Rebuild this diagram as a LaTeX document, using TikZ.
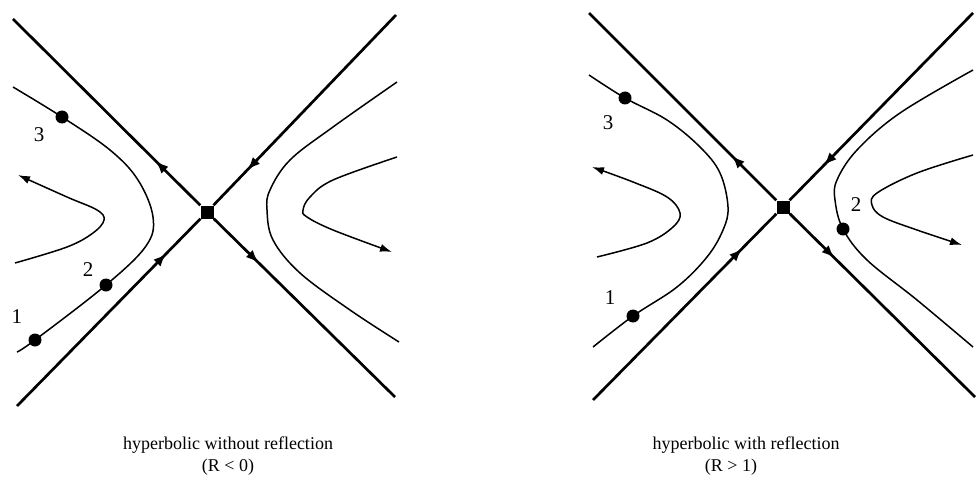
\documentclass[tikz,border=0pt]{standalone}
\usepackage{fontspec}
\setmainfont{Liberation Serif}
\usetikzlibrary{arrows.meta,decorations.markings}
\begin{document}
\begin{tikzpicture}[x=1pt,y=-1pt,
  axis/.style={line width=2.7pt},
  traj/.style={line width=1.5pt},
  outarrow/.style={postaction={decorate},decoration={markings,mark=at position 63pt with {\arrow{Latex[length=13pt,width=10pt]}}}},
  inarrow/.style={postaction={decorate},decoration={markings,mark=at position 49pt with {\arrowreversed{Latex[length=13pt,width=10pt]}}}},
  fixedpt/.style={fill,rectangle,minimum size=13pt,inner sep=0pt},
  dotpt/.style={fill,circle,minimum size=13pt,inner sep=0pt},
  lab/.style={font=\fontsize{21}{24}\selectfont,inner sep=0pt},
  captext/.style={font=\fontsize{18}{21}\selectfont,inner sep=0pt,anchor=base},
  endtip/.style={-{Latex[length=12pt,width=8pt]}}
]
\useasboundingbox (0,0) rectangle (976,476);

% ---------- left diagram ----------
\node[fixedpt] (c1) at (207,212) {};
\coordinate (a1) at (13,19);
\coordinate (a2) at (396,15);
\coordinate (a3) at (17,406);
\coordinate (a4) at (395,397);
\draw[axis,outarrow] (c1) -- (a1);
\draw[axis,inarrow] (c1) -- (a2);
\draw[axis,inarrow] (c1) -- (a3);
\draw[axis,outarrow] (c1) -- (a4);

\node[dotpt] (l1) at (35,340) {};
\node[dotpt] (l2) at (106,285) {};
\node[dotpt] (l3) at (62,117) {};
\draw[traj] plot[smooth,tension=0.6] coordinates {(13,87) (l3.center) (110,150) (138,180) (153,217) (146,246) (l2.center) (l1.center) (17,352)};
\draw[traj,endtip] plot[smooth,tension=0.6] coordinates {(15,263) (67,247) (93,233) (104,220) (97,210) (67,197) (18,175)};
\draw[traj] plot[smooth,tension=0.6] coordinates {(397,82) (333,127) (290,160) (270,190) (267,210) (273,240) (300,273) (350,310) (399,342)};
\draw[traj,endtip] plot[smooth,tension=0.6] coordinates {(397,157) (333,180) (310,197) (303,210) (307,217) (333,230) (392,252)};

\node[lab] (t1) at (17,317) {1};
\node[lab] (t2) at (88,270) {2};
\node[lab] (t3) at (39,135) {3};

\node[captext] (cap1a) at (228,449) {hyperbolic without reflection};
\node[captext] (cap1b) at (228,471) {(R < 0)};

% ---------- right diagram ----------
\node[fixedpt] (c2) at (783,207) {};
\coordinate (b1) at (589,13);
\coordinate (b2) at (973,13);
\coordinate (b3) at (593,400);
\coordinate (b4) at (975,397);
\draw[axis,outarrow] (c2) -- (b1);
\draw[axis,inarrow] (c2) -- (b2);
\draw[axis,inarrow] (c2) -- (b3);
\draw[axis,outarrow] (c2) -- (b4);

\node[dotpt] (r1) at (633,316) {};
\node[dotpt] (r2) at (843,229) {};
\node[dotpt] (r3) at (625,98) {};
\draw[traj] plot[smooth,tension=0.6] coordinates {(589,75) (r3.center) (667,120) (700,147) (720,173) (728,207) (723,230) (707,257) (677,287) (r1.center) (593,347)};
\draw[traj,endtip] plot[smooth,tension=0.6] coordinates {(597,257) (647,243) (673,227) (680,213) (667,197) (633,182) (592,167)};
\draw[traj] plot[smooth,tension=0.6] coordinates {(973,70) (900,113) (857,150) (837,180) (835,200) (r2.center) (867,260) (917,300) (973,347)};
\draw[traj,endtip] plot[smooth,tension=0.6] coordinates {(973,155) (917,173) (877,193) (872,205) (883,217) (917,230) (962,245)};

\node[lab] (s1) at (610,298) {1};
\node[lab] (s2) at (856,205) {2};
\node[lab] (s3) at (608,123) {3};

\node[captext] (cap2a) at (746,449) {hyperbolic with reflection};
\node[captext] (cap2b) at (731,471) {(R > 1)};
\end{tikzpicture}
\end{document}
